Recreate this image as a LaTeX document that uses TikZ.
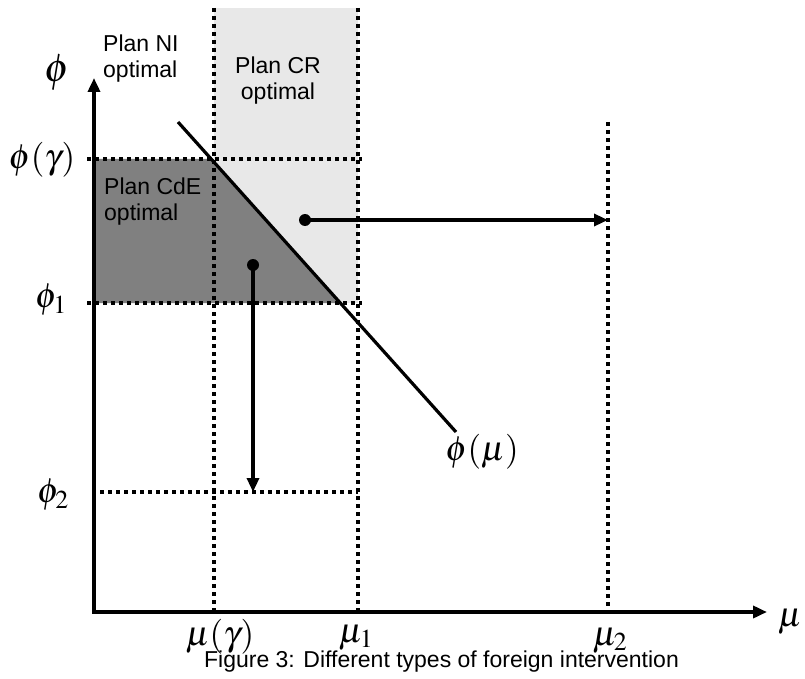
\documentclass[tikz,border=0pt]{standalone}
\usepackage{mathptmx}
\usepackage[no-math]{fontspec}
\setmainfont{Liberation Sans}
\usetikzlibrary{arrows.meta}
\definecolor{lightg}{HTML}{E8E8E8}
\definecolor{darkg}{HTML}{808080}
\begin{document}
\begin{tikzpicture}[x=1pt,y=-1pt,
  guide/.style={line width=4pt, dash pattern=on 4pt off 4pt},
  axisline/.style={line width=3.5pt, {Triangle[length=14pt,width=12pt]}-{Triangle[length=14pt,width=12pt]}},
  mv/.style={line width=3.2pt, -{Triangle[length=14pt,width=12pt]}},
  lab/.style={font=\fontsize{23}{26}\selectfont, inner sep=0pt},
  mlab/.style={font=\fontsize{35}{40}\selectfont, inner sep=0pt},
  dotn/.style={circle, fill=black, inner sep=0pt, minimum size=12pt}]
\useasboundingbox (0,0) rectangle (805,679);
% regions
\fill[lightg] (214,8) rectangle (358,303);
\fill[darkg] (94,159) -- (211,159) -- (340,303) -- (94,303) -- cycle;
% guide coordinates
\coordinate (ga) at (87,159);  \coordinate (gb) at (362,159);
\coordinate (fa) at (87,303);  \coordinate (fb) at (362,303);
\coordinate (ha) at (100,492); \coordinate (hb) at (358,492);
\coordinate (va) at (214,8);   \coordinate (vb) at (214,612);
\coordinate (wa) at (358,8);   \coordinate (wb) at (358,612);
\coordinate (ua) at (608,122); \coordinate (ub) at (608,612);
\draw[guide] (ga) -- (gb);
\draw[guide] (fa) -- (fb);
\draw[guide] (ha) -- (hb);
\draw[guide] (va) -- (vb);
\draw[guide] (wa) -- (wb);
\draw[guide] (ua) -- (ub);
% curve phi(mu)
\coordinate (d1) at (178,122); \coordinate (d2) at (456,432);
\draw[line width=3.2pt] (d1) -- (d2);
% axes
\coordinate (O) at (94,612); \coordinate (ytop) at (94,78); \coordinate (xend) at (767,612);
\draw[axisline] (ytop) -- (O) -- (xend);
% moves
\node[dotn] (cr) at (305,220) {};
\node[dotn] (cde) at (253,265) {};
\coordinate (crE) at (608,220);
\coordinate (cdeE) at (253,492);
\draw[mv] (cr.center) -- (crE);
\draw[mv] (cde.center) -- (cdeE);
% region labels
\node[lab, align=left, anchor=north west] (ni) at (103,35) {Plan NI\\optimal};
\node[lab, align=center, anchor=north] (crl) at (278,57) {Plan CR\\optimal};
\node[lab, align=left, anchor=north west] (cdel) at (104,178) {Plan CdE\\optimal};
% math labels
\node[mlab, font=\fontsize{40}{44}\selectfont] (phi) at (57,73) {$\phi$};
\node[mlab] (phig) at (42,160) {$\phi(\gamma)$};
\node[mlab] (phi1) at (51,300) {$\phi_1$};
\node[mlab] (phi2) at (53,495) {$\phi_2$};
\node[mlab] (phimu) at (482,452) {$\phi(\mu)$};
\node[mlab] (mug) at (220,637) {$\mu(\gamma)$};
\node[mlab] (mu1) at (356,638) {$\mu_1$};
\node[mlab] (mu2) at (610,641) {$\mu_2$};
\node[mlab] (mu) at (790,622) {$\mu$};
% caption
\node[lab, anchor=base] (cap) at (441.5,667) {Figure 3: Different types of foreign intervention};
\end{tikzpicture}
\end{document}
